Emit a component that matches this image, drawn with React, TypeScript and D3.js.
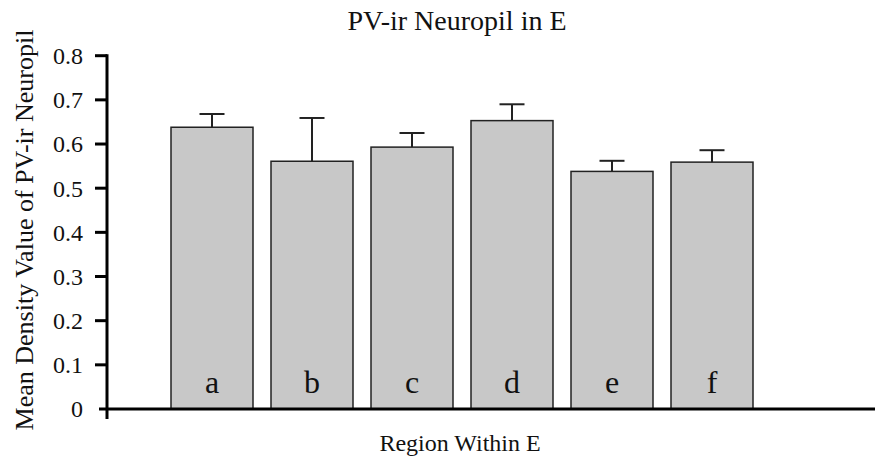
import { useMemo } from "react";
import * as d3 from "d3";

const regions = ["a", "b", "c", "d", "e", "f"];
const meanDensity = [0.638, 0.561, 0.593, 0.653, 0.538, 0.559];
const errorUpper = [0.03, 0.098, 0.032, 0.037, 0.024, 0.027];
const yTickValues = [0, 0.1, 0.2, 0.3, 0.4, 0.5, 0.6, 0.7, 0.8];

const width = 893;
const height = 458;
const font = "'Liberation Serif', serif";

export default function App() {
  const axisX = 107;
  const axisY = 409;

  const xScale = useMemo(
    () =>
      d3
        .scaleBand<string>()
        .domain(regions)
        .range([162, 762])
        .paddingInner(0.18)
        .paddingOuter(0.09),
    []
  );
  const yScale = useMemo(
    () => d3.scaleLinear().domain([0, 0.8]).range([axisY, 55.7]),
    []
  );

  const bars = regions.map((r, i) => ({
    name: r,
    x: xScale(r) ?? 0,
    cx: (xScale(r) ?? 0) + xScale.bandwidth() / 2,
    y: yScale(meanDensity[i]),
    yErr: yScale(meanDensity[i] + errorUpper[i]),
  }));

  return (
    <svg
      width={width}
      height={height}
      viewBox={`0 0 ${width} ${height}`}
      style={{ position: "absolute", left: 0, top: 0, background: "#fff" }}
      fontFamily={font}
    >
      {/* title */}
      <text x={457} y={30} textAnchor="middle" fontSize={28} fill="#111">
        PV-ir Neuropil in E
      </text>

      {/* bars */}
      {bars.map((b) => (
        <g key={b.name}>
          <line x1={b.cx} x2={b.cx} y1={b.y} y2={b.yErr} stroke="#222" strokeWidth={2} />
          <line
            x1={b.cx - 12.5}
            x2={b.cx + 12.5}
            y1={b.yErr}
            y2={b.yErr}
            stroke="#222"
            strokeWidth={2}
          />
          <rect
            x={b.x}
            y={b.y}
            width={xScale.bandwidth()}
            height={axisY - b.y}
            fill="#c8c8c8"
            stroke="#222"
            strokeWidth={1.5}
          />
          <text x={b.cx} y={393} textAnchor="middle" fontSize={32} fill="#111">
            {b.name}
          </text>
        </g>
      ))}

      {/* y axis */}
      <line x1={axisX} x2={axisX} y1={yScale(0.8) - 1.5} y2={419} stroke="#000" strokeWidth={3} />
      {yTickValues.map((t) => (
        <g key={t}>
          {t > 0 && (
            <line x1={95} x2={axisX} y1={yScale(t)} y2={yScale(t)} stroke="#000" strokeWidth={3} />
          )}
          <text
            x={83}
            y={yScale(t)}
            dy="0.35em"
            textAnchor="end"
            fontSize={24}
            fill="#111"
          >
            {t === 0 ? "0" : d3.format(".1f")(t)}
          </text>
        </g>
      ))}

      {/* x axis */}
      <line x1={99} x2={875} y1={axisY} y2={axisY} stroke="#000" strokeWidth={3} />

      {/* axis titles */}
      <text x={460} y={451} textAnchor="middle" fontSize={24} fill="#111">
        Region Within E
      </text>
      <text
        transform={`translate(33, 230) rotate(-90)`}
        textAnchor="middle"
        fontSize={26}
        fill="#111"
      >
        Mean Density Value of PV-ir Neuropil
      </text>
    </svg>
  );
}
